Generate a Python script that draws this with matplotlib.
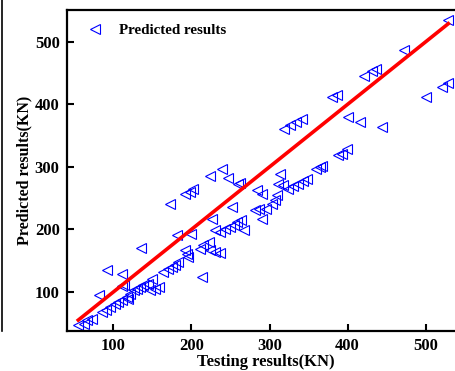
import matplotlib
matplotlib.use("Agg")
import matplotlib.pyplot as plt
from matplotlib.lines import Line2D

# ───── data ─────

testing = [55, 62, 66, 72, 81, 85, 91, 96, 102, 106, 111, 92, 111, 111, 113,
           117, 119, 121, 126, 130, 134, 138, 144, 149, 147, 153, 158, 135,
           164, 170, 175, 179, 183, 173, 181, 192, 194, 196, 192, 198, 202,
           200, 211, 215, 222, 213, 224, 239, 247, 260, 262, 226, 230, 237,
           243, 249, 254, 258, 264, 267, 224, 230, 237, 252, 281, 286, 284,
           290, 290, 296, 303, 307, 309, 311, 317, 313, 324, 330, 337, 343,
           348, 360, 365, 367, 388, 393, 399, 318, 326, 334, 341, 380, 386,
           401, 416, 444, 421, 431, 437, 472, 501, 521, 529, 529]
predicted = [47, 49, 55, 57, 95, 68, 71, 76, 81, 84, 87, 135, 129, 109, 111,
             92, 89, 97, 103, 105, 108, 111, 113, 121, 103, 105, 108, 171,
             132, 137, 140, 143, 148, 241, 191, 167, 161, 156, 257, 260, 265,
             193, 169, 175, 180, 124, 285, 297, 283, 273, 274, 217, 199, 196,
             201, 204, 207, 212, 215, 199, 167, 164, 162, 236, 231, 233, 263,
             257, 217, 233, 241, 247, 255, 272, 271, 289, 265, 269, 273, 278,
             281, 297, 300, 302, 319, 321, 329, 361, 367, 372, 377, 412, 415,
             380, 372, 364, 446, 454, 457, 487, 412, 428, 434, 535]

x_ticks = [100, 200, 300, 400, 500]
y_ticks = [100, 200, 300, 400, 500]

plt.rcParams["font.family"] = ["Liberation Serif", "DejaVu Serif"]
plt.rcParams["font.weight"] = "bold"

fig = plt.figure(figsize=(4.56, 3.71), dpi=100)
ax = fig.add_axes([0.146, 0.1086, 0.873, 0.8646])

ax.plot(testing, predicted, linestyle="none", marker="<", markersize=7.8,
        markerfacecolor="none", markeredgecolor="#0000ff", markeredgewidth=0.8,
        label="Predicted results")

# ideal line y = x over the tested range
lo, hi = min(testing), max(testing)
ax.plot([lo, hi], [lo, hi], color="red", linewidth=2.6, zorder=3)

ax.set_xlim(40, 550)
ax.set_ylim(38, 551)
ax.set_xticks(x_ticks)
ax.set_yticks(y_ticks)
ax.tick_params(direction="in", length=5, width=1.5, labelsize=12, pad=5)
for lab in ax.get_xticklabels() + ax.get_yticklabels():
    lab.set_fontweight("bold")
for sp in ax.spines.values():
    sp.set_linewidth(1.6)

ax.set_xlabel("Testing results(KN)", fontsize=12, fontweight="bold", labelpad=0)
ax.set_ylabel("Predicted results(KN)", fontsize=11.5, fontweight="bold", labelpad=2)

ax.legend(loc="upper left", frameon=False, prop={"weight": "bold", "size": 10.8},
          handletextpad=0.6, borderaxespad=0.5, bbox_to_anchor=(0.0, 1.0))

# edge of the neighbouring panel on the far left
fig.add_artist(Line2D([2.5 / 456, 2.5 / 456], [1.0, 40 / 371], color="black",
                      linewidth=1.2, transform=fig.transFigure))

fig.savefig("out.png", dpi=100)
